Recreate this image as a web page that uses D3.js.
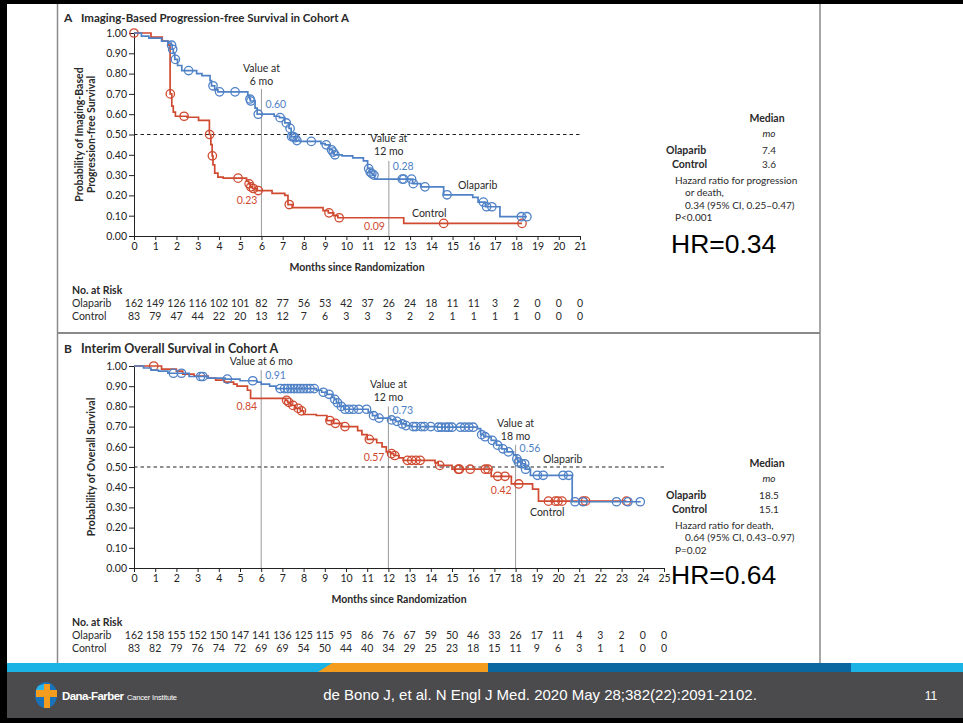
<!DOCTYPE html>
<html>
<head>
<meta charset="utf-8">
<script src="https://cdn.jsdelivr.net/npm/d3@7"></script>
<style>
  body { margin: 0; background: #fff; }
  svg { display: block; font-family: Lato, "Open Sans", sans-serif; }
  .axis text { font-size: 10.5px; fill: #222; font-family: Lato, sans-serif; }
  .axis path, .axis line { stroke: #222; stroke-width: 1; }
</style>
</head>
<body>
<svg id="chart" width="963" height="723"></svg>
<script>
// ---- Data: panel A (imaging-based PFS) ----
// steps = [month, survival after that month]
const stepsA_olaparib = [[0,1],[0.35,0.985],[0.7,0.975],[1.3,0.96],[1.6,0.95],[1.76,0.94],[1.8,0.92],[1.85,0.90],[1.92,0.87],
  [2.05,0.84],[2.25,0.815],[2.95,0.80],[3.2,0.79],[3.58,0.765],[3.65,0.74],[3.8,0.72],[3.95,0.71],[5.36,0.69],[5.45,0.675],
  [5.48,0.665],[5.7,0.63],[5.8,0.60],[6.6,0.59],[6.85,0.583],[7.1,0.557],[7.3,0.53],[7.4,0.49],[7.55,0.484],[7.62,0.47],
  [7.8,0.466],[8.8,0.455],[9.0,0.449],[9.2,0.425],[9.35,0.413],[9.42,0.40],[9.8,0.395],[10.3,0.385],[10.8,0.37],[11.0,0.332],
  [11.1,0.315],[11.18,0.307],[11.25,0.30],[11.33,0.28],[13.12,0.258],[13.5,0.242],[14.58,0.203],[15.95,0.19],[16.2,0.167],
  [16.55,0.144],[17.23,0.095]];
const endA_olaparib = 18.5;
const censorA_olaparib = [1.77,1.82,1.95,2.57,3.72,4.03,4.76,5.46,5.5,5.85,6.88,7.17,7.35,7.42,7.5,7.58,7.67,8.35,9.05,9.3,
  9.38,9.46,11.05,11.12,11.2,11.3,12.63,12.7,13.07,13.15,13.7,14.74,16.45,16.6,16.85,18.24,18.5];

const stepsA_control = [[0,1],[0.8,0.98],[1.33,0.96],[1.6,0.94],[1.7,0.70],[1.78,0.64],[1.85,0.61],[1.95,0.59],[2.5,0.585],
  [3.04,0.57],[3.55,0.50],[3.62,0.45],[3.68,0.395],[3.72,0.35],[3.8,0.31],[3.95,0.29],[4.2,0.285],[5.3,0.27],[5.4,0.257],
  [5.48,0.242],[5.58,0.234],[5.75,0.224],[6.5,0.21],[7.1,0.20],[7.25,0.155],[7.45,0.14],[8.9,0.125],[9.15,0.114],[9.4,0.10],
  [9.6,0.09],[12.7,0.062]];
const endA_control = 18.27;
const censorA_control = [0,1.71,2.36,3.56,3.69,4.9,5.42,5.5,5.62,5.85,7.31,9.18,9.66,14.58,18.27];

const riskA_olaparib = [162,149,126,116,102,101,82,77,56,53,42,37,26,24,18,11,11,3,2,0,0,0];
const riskA_control = [83,79,47,44,22,20,13,12,7,6,3,3,3,2,2,1,1,1,1,0,0,0];

// ---- Data: panel B (interim overall survival) ----
const stepsB_olaparib = [[0,1],[0.45,0.99],[0.8,0.98],[1.15,0.975],[1.6,0.964],[2.6,0.948],[3.5,0.94],[4.3,0.935],[5.0,0.927],
  [5.8,0.92],[6.0,0.91],[6.4,0.90],[6.7,0.888],[8.6,0.88],[8.85,0.87],[9.1,0.86],[9.35,0.845],[9.45,0.835],[9.55,0.818],
  [9.7,0.80],[9.9,0.786],[11.05,0.77],[11.25,0.754],[11.5,0.742],[12.1,0.733],[12.35,0.726],[12.6,0.713],[12.8,0.705],
  [13.1,0.70],[14.3,0.697],[16.2,0.69],[16.35,0.66],[16.5,0.65],[16.85,0.632],[17.1,0.608],[17.35,0.59],[17.6,0.575],
  [17.9,0.56],[18.05,0.54],[18.1,0.525],[18.25,0.516],[18.45,0.489],[18.7,0.459],[20.67,0.328]];
const endB_olaparib = 23.9;
const censorB_olaparib = [1.86,2.24,3.14,3.25,4.4,5.6,6.9,7.1,7.25,7.4,7.55,7.7,7.85,8.0,8.15,8.3,8.5,8.93,9.2,9.47,9.6,9.78,
  9.95,10.15,10.35,10.6,10.97,11.3,11.56,12.15,12.4,12.66,12.83,13.17,13.3,13.55,13.7,14.0,14.35,14.5,14.7,14.85,15.0,15.4,
  15.6,15.8,16.0,16.4,16.56,16.9,17.15,17.4,17.66,18.06,18.13,18.28,18.43,18.47,19.03,19.3,20.24,20.5,20.8,21.18,22.76,23.3,23.88];

const stepsB_control = [[0,1],[1.3,0.985],[2.0,0.975],[2.3,0.96],[2.83,0.95],[3.5,0.94],[3.85,0.93],[4.27,0.92],[4.7,0.91],
  [4.86,0.90],[5.35,0.88],[5.5,0.84],[7.15,0.83],[7.25,0.82],[7.4,0.805],[7.6,0.79],[7.85,0.778],[8.0,0.76],[8.6,0.755],
  [9.1,0.73],[9.4,0.716],[9.8,0.70],[10.55,0.68],[10.75,0.66],[11.0,0.637],[11.45,0.62],[11.7,0.60],[11.9,0.575],[12.1,0.566],
  [12.25,0.557],[12.5,0.545],[12.7,0.533],[14.2,0.52],[14.35,0.508],[15.0,0.489],[16.85,0.454],[17.8,0.416],[18.8,0.39],
  [19.08,0.331]];
const endB_control = 23.23;
const censorB_control = [0.93,7.2,7.3,7.5,7.75,7.9,9.24,9.5,9.95,11.1,12.15,12.3,12.9,13.1,13.3,13.5,14.42,15.3,15.35,15.86,
  16.57,16.7,17.16,17.5,18.15,19.55,19.87,20.0,20.19,21.18,21.3,23.23];

const riskB_olaparib = [162,158,155,152,150,147,141,136,125,115,95,86,76,67,59,50,46,33,26,17,11,4,3,2,0,0];
const riskB_control = [83,82,79,76,74,72,69,69,54,50,44,40,34,29,25,23,18,15,11,9,6,3,1,1,0,0];

const blue = '#4f81c6';
const red = '#cf4a30';
const ink = '#2a2a2a';

const svg = d3.select('#chart');

// frame + separators
svg.append('rect').attr('x', 0).attr('y', 0).attr('width', 963).attr('height', 4).attr('fill', '#000');
svg.append('rect').attr('x', 0).attr('y', 0).attr('width', 7).attr('height', 723).attr('fill', '#000');
svg.append('line').attr('x1', 57.5).attr('x2', 57.5).attr('y1', 4).attr('y2', 663).attr('stroke', '#8a8a8a').attr('stroke-width', 1.5);
svg.append('line').attr('x1', 820).attr('x2', 820).attr('y1', 4).attr('y2', 663).attr('stroke', '#8a8a8a').attr('stroke-width', 1.5);
svg.append('line').attr('x1', 57).attr('x2', 820).attr('y1', 333).attr('y2', 333).attr('stroke', '#8a8a8a').attr('stroke-width', 2);

function survAt(steps, t) {
  let s = steps[0][1];
  steps.forEach(([tt, v]) => { if (tt <= t) s = v; });
  return s;
}

function txt(g, x, y, s, opts = {}) {
  return g.append('text')
    .attr('x', x).attr('y', y)
    .attr('text-anchor', opts.anchor || 'start')
    .attr('font-size', opts.size || 10.5)
    .attr('font-weight', opts.bold ? 'bold' : 'normal')
    .attr('font-style', opts.italic ? 'italic' : 'normal')
    .attr('fill', opts.color || ink)
    .text(s);
}

function drawPanel(cfg) {
  const g = svg.append('g');
  const x = d3.scaleLinear().domain([0, cfg.maxX]).range([134, cfg.right]);
  const y = d3.scaleLinear().domain([0, 1]).range([cfg.bottom, cfg.top]);

  // title
  txt(g, 64, cfg.titleY, cfg.letter, { bold: true, size: 12 });
  txt(g, 81, cfg.titleY, cfg.title, { bold: true, size: cfg.titleSize });

  // reference lines at landmark months
  cfg.marks.forEach(m => {
    g.append('line')
      .attr('x1', x(m.t)).attr('x2', x(m.t))
      .attr('y1', y(m.lineTop)).attr('y2', y(0))
      .attr('stroke', '#9a9a9a').attr('stroke-width', 1);
  });

  // median dashed line
  g.append('line')
    .attr('x1', x(0)).attr('x2', x(cfg.maxX))
    .attr('y1', y(0.5)).attr('y2', y(0.5))
    .attr('stroke', '#222').attr('stroke-width', 1).attr('stroke-dasharray', '3.5,3');

  // axes
  g.append('g').attr('class', 'axis')
    .attr('transform', `translate(${x(0)},0)`)
    .call(d3.axisLeft(y).tickValues(d3.range(0, 11).map(d => d / 10)).tickFormat(d3.format('.2f')).tickSize(5).tickSizeOuter(0).tickPadding(2));
  g.append('g').attr('class', 'axis')
    .attr('transform', `translate(0,${y(0)})`)
    .call(d3.axisBottom(x).tickValues(d3.range(0, cfg.maxX + 1)).tickFormat(d3.format('d')).tickSize(4).tickSizeOuter(0).tickPadding(3));

  // y label
  cfg.yLabel.forEach((s, i) => {
    g.append('text')
      .attr('transform', `translate(${cfg.yLabelX[i]},${(y(0) + y(1)) / 2}) rotate(-90)`)
      .attr('text-anchor', 'middle').attr('font-size', 10.5).attr('font-weight', 'bold').attr('fill', ink)
      .text(s);
  });

  // x label
  txt(g, (x(0) + x(cfg.maxX)) / 2, y(0) + 35, 'Months since Randomization', { anchor: 'middle', bold: true, size: 10.5 });

  // curves
  const line = d3.line().x(d => x(d[0])).y(d => y(d[1])).curve(d3.curveStepAfter);
  cfg.curves.forEach(c => {
    const pts = c.steps.concat([[c.end, c.steps[c.steps.length - 1][1]]]);
    g.append('path').datum(pts).attr('d', line)
      .attr('fill', 'none').attr('stroke', c.color).attr('stroke-width', 1.7);
    g.selectAll(null).data(c.censor).enter().append('circle')
      .attr('cx', d => x(d)).attr('cy', d => y(survAt(c.steps, d)))
      .attr('r', 4.2).attr('fill', 'none').attr('stroke', c.color).attr('stroke-width', 1.3);
  });

  // landmark annotations
  cfg.marks.forEach(m => {
    m.head.forEach((s, i) => {
      txt(g, x(m.t) + (m.headDx || 0), m.headY + i * 13, s, { anchor: 'middle', size: 10.5 });
    });
    txt(g, x(m.t) + 4, m.blueY, m.blue, { color: blue, size: 10.5 });
    txt(g, x(m.t) - 4, m.redY, m.red, { color: red, anchor: 'end', size: 10.5 });
  });
  txt(g, cfg.olapLabel[0], cfg.olapLabel[1], 'Olaparib', { size: 10.5 });
  txt(g, cfg.ctrlLabel[0], cfg.ctrlLabel[1], 'Control', { size: 10.5 });

  // legend / stats block
  const s = cfg.stats;
  txt(g, 767, s.y, 'Median', { anchor: 'middle', bold: true, size: 10.5 });
  txt(g, 769, s.y + 15, 'mo', { anchor: 'middle', italic: true, size: 10 });
  txt(g, 666, s.y + 32, 'Olaparib', { bold: true, size: 10.5 });
  txt(g, 769, s.y + 32, s.medO, { anchor: 'middle', size: 10 });
  txt(g, 672, s.y + 46, 'Control', { bold: true, size: 10.5 });
  txt(g, 769, s.y + 46, s.medC, { anchor: 'middle', size: 10 });
  s.lines.forEach((l, i) => txt(g, l[0], s.y + 62 + i * 12.3, l[1], { size: 10 }));
  g.append('text').attr('x', 671).attr('y', s.hrY)
    .attr('font-family', 'Liberation Sans, Arial, sans-serif').attr('font-size', 26.5).attr('fill', '#000')
    .text(s.hr);

  // numbers at risk
  txt(g, 72, cfg.riskY, 'No. at Risk', { bold: true, size: 10.5 });
  txt(g, 72, cfg.riskY + 13, 'Olaparib', { size: 10.5 });
  txt(g, 72, cfg.riskY + 26, 'Control', { size: 10.5 });
  [cfg.riskO, cfg.riskC].forEach((arr, r) => {
    g.selectAll(null).data(arr).enter().append('text')
      .attr('x', (d, i) => x(i)).attr('y', cfg.riskY + 13 * (r + 1))
      .attr('text-anchor', 'middle').attr('font-size', 10.5).attr('fill', ink)
      .text(d => d);
  });
}

drawPanel({
  letter: 'A', title: 'Imaging-Based Progression-free Survival in Cohort A', titleY: 22, titleSize: 11.5,
  maxX: 21, right: 580, top: 33, bottom: 236,
  yLabel: ['Probability of Imaging-Based', 'Progression-free Survival'], yLabelX: [83, 95],
  curves: [
    { steps: stepsA_control, end: endA_control, censor: censorA_control, color: red },
    { steps: stepsA_olaparib, end: endA_olaparib, censor: censorA_olaparib, color: blue }
  ],
  marks: [
    { t: 6, lineTop: 0.725, head: ['Value at', '6 mo'], headY: 72, blue: '0.60', blueY: 108, red: '0.23', redY: 204 },
    { t: 12, lineTop: 0.37, head: ['Value at', '12 mo'], headY: 142, blue: '0.28', blueY: 170, red: '0.09', redY: 230 }
  ],
  olapLabel: [458, 189], ctrlLabel: [412, 217],
  stats: { y: 122, medO: '7.4', medC: '3.6', hrY: 253, hr: 'HR=0.34',
    lines: [[675, 'Hazard ratio for progression'], [685, 'or death,'], [685, '0.34 (95% CI, 0.25\u20130.47)'], [675, 'P<0.001']] },
  riskY: 294, riskO: riskA_olaparib, riskC: riskA_control
});

drawPanel({
  letter: 'B', title: 'Interim Overall Survival in Cohort A', titleY: 353, titleSize: 12.5,
  maxX: 25, right: 664, top: 366, bottom: 568,
  yLabel: ['Probability of Overall Survival'], yLabelX: [95],
  curves: [
    { steps: stepsB_control, end: endB_control, censor: censorB_control, color: red },
    { steps: stepsB_olaparib, end: endB_olaparib, censor: censorB_olaparib, color: blue }
  ],
  marks: [
    { t: 6, lineTop: 0.98, head: ['Value at 6 mo'], headY: 365, blue: '0.91', blueY: 379, red: '0.84', redY: 410 },
    { t: 12, lineTop: 0.80, head: ['Value at', '12 mo'], headY: 388, blue: '0.73', blueY: 414, red: '0.57', redY: 461 },
    { t: 18, lineTop: 0.61, head: ['Value at', '18 mo'], headY: 427, headDx: 0, blue: '0.56', blueY: 452, red: '0.42', redY: 494 }
  ],
  olapLabel: [543, 463], ctrlLabel: [530, 516],
  stats: { y: 467, medO: '18.5', medC: '15.1', hrY: 584, hr: 'HR=0.64',
    lines: [[675, 'Hazard ratio for death,'], [685, '0.64 (95% CI, 0.43\u20130.97)'], [675, 'P=0.02']] },
  riskY: 626, riskO: riskB_olaparib, riskC: riskB_control
});

// ---- footer ----
const foot = svg.append('g');
foot.append('rect').attr('x', 7).attr('y', 663).attr('width', 956).attr('height', 9).attr('fill', '#1bb3e6');
foot.append('path').attr('d', 'M318,672 L332,663 L488,663 L488,672 Z').attr('fill', '#f39c1e');
foot.append('rect').attr('x', 488).attr('y', 663).attr('width', 363).attr('height', 9).attr('fill', '#0b67a0');
foot.append('rect').attr('x', 7).attr('y', 672).attr('width', 956).attr('height', 46).attr('fill', '#4b4b4d');
foot.append('rect').attr('x', 0).attr('y', 718).attr('width', 963).attr('height', 5).attr('fill', '#000');
// logo
foot.append('ellipse').attr('cx', 46).attr('cy', 695).attr('rx', 11).attr('ry', 13).attr('fill', '#1a72b8');
foot.append('path').attr('d', 'M36,690 L44,690 L44,684 L50,684 L50,690 L57,690 L57,697 L50,697 L50,708 L44,708 L44,697 L36,697 Z').attr('fill', '#f39c1e');
foot.append('path').attr('d', 'M38,686 L44,684 L44,690 L36,690 Z').attr('fill', '#29b5e8');
foot.append('text').attr('x', 62).attr('y', 700).attr('font-family', 'Liberation Sans, Arial, sans-serif')
  .attr('font-size', 11.5).attr('font-weight', 'bold').attr('fill', '#fff').attr('textLength', 62).text('Dana-Farber');
foot.append('text').attr('x', 127).attr('y', 700).attr('font-family', 'Liberation Sans, Arial, sans-serif')
  .attr('font-size', 7.5).attr('fill', '#fff').attr('textLength', 50).text('Cancer Institute');
foot.append('text').attr('x', 540).attr('y', 700).attr('text-anchor', 'middle')
  .attr('font-family', 'Liberation Sans, Arial, sans-serif').attr('font-size', 15).attr('fill', '#fff')
  .text('de Bono J, et al. N Engl J Med. 2020 May 28;382(22):2091-2102.');
foot.append('text').attr('x', 931).attr('y', 700).attr('text-anchor', 'middle')
  .attr('font-family', 'Liberation Sans, Arial, sans-serif').attr('font-size', 12).attr('fill', '#fff').text('11');
</script>
</body>
</html>
